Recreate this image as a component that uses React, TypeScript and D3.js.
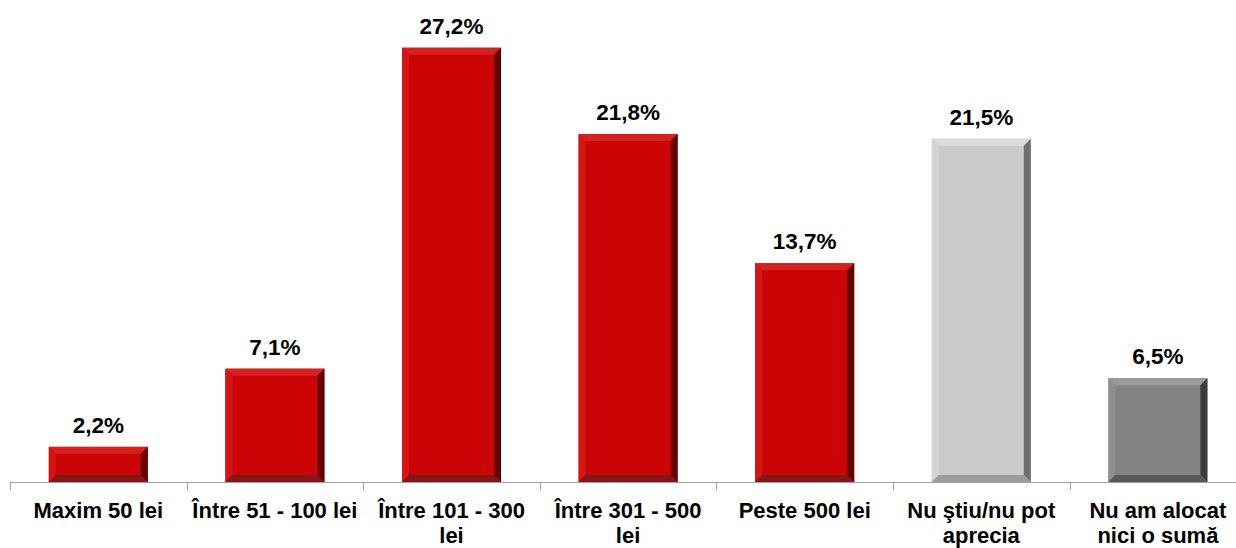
import React from "react";
import * as d3 from "d3";

const categories: string[][] = [
  ["Maxim 50 lei"],
  ["Între 51 - 100 lei"],
  ["Între 101 - 300", "lei"],
  ["Între 301 - 500", "lei"],
  ["Peste 500 lei"],
  ["Nu ştiu/nu pot", "aprecia"],
  ["Nu am alocat", "nici o sumă"],
];
const values: number[] = [2.2, 7.1, 27.2, 21.8, 13.7, 21.5, 6.5];
const valueLabels: string[] = ["2,2%", "7,1%", "27,2%", "21,8%", "13,7%", "21,5%", "6,5%"];
const colorKeys: string[] = ["red", "red", "red", "red", "red", "light", "dark"];

const palettes: Record<string, { base: string; top: string; left: string; right: string; bottom: string }> = {
  red: { base: "#CB0505", top: "#D92020", left: "#D31515", right: "#650000", bottom: "#801818" },
  light: { base: "#CACACA", top: "#DCDCDC", left: "#D4D4D4", right: "#707070", bottom: "#9C9C9C" },
  dark: { base: "#838383", top: "#9A9A9A", left: "#8E8E8E", right: "#3C3C3C", bottom: "#585858" },
};

const W = 1236;
const H = 548;
const axisY = 482;
const x0 = 10;
const band = 176.6;

export default function App() {
  const x = d3
    .scaleBand<number>()
    .domain(d3.range(categories.length))
    .range([x0, x0 + band * categories.length])
    .paddingInner(0)
    .paddingOuter(0);
  const y = d3.scaleLinear().domain([0, 30]).range([axisY, 3]);
  const barW = 99;
  const bev = 7;

  return (
    <svg
      width={W}
      height={H}
      style={{ position: "absolute", left: 0, top: 0, background: "#fff" }}
      fontFamily="'Liberation Sans', Arial, sans-serif"
    >
      {values.map((v, i) => {
        const cx = (x(i) as number) + x.bandwidth() / 2;
        const l = cx - barW / 2;
        const r = cx + barW / 2;
        const t = y(v);
        const b = y(0);
        const p = palettes[colorKeys[i]];
        const bv = Math.min(bev, (b - t) / 2);
        return (
          <g key={i}>
            <rect x={l} y={t} width={barW} height={b - t} fill={p.base} />
            <polygon points={`${l},${t} ${r},${t} ${r - bv},${t + bv} ${l + bv},${t + bv}`} fill={p.top} />
            <polygon points={`${l},${t} ${l + bv},${t + bv} ${l + bv},${b - bv} ${l},${b}`} fill={p.left} />
            <polygon points={`${r},${t} ${r},${b} ${r - bv},${b - bv} ${r - bv},${t + bv}`} fill={p.right} />
            <polygon points={`${l},${b} ${l + bv},${b - bv} ${r - bv},${b - bv} ${r},${b}`} fill={p.bottom} />
            <text x={cx} y={t - 14} textAnchor="middle" fontWeight="bold" fontSize={22.5} fill="#000">
              {valueLabels[i]}
            </text>
          </g>
        );
      })}
      <line x1={x0} x2={W} y1={axisY + 0.5} y2={axisY + 0.5} stroke="#A0A0A0" strokeWidth={1} />
      {d3.range(categories.length + 1).map((i) => {
        const tx = Math.round(x0 + band * i) + 0.5;
        return <line key={i} x1={tx} x2={tx} y1={axisY} y2={axisY + 8} stroke="#A0A0A0" strokeWidth={1} />;
      })}
      {categories.map((lines, i) => {
        const cx = (x(i) as number) + x.bandwidth() / 2;
        return (
          <text key={i} x={cx} y={518} textAnchor="middle" fontWeight="bold" fontSize={22} fill="#000">
            {lines.map((ln, j) => (
              <tspan key={j} x={cx} dy={j === 0 ? 0 : 25}>
                {ln}
              </tspan>
            ))}
          </text>
        );
      })}
    </svg>
  );
}
